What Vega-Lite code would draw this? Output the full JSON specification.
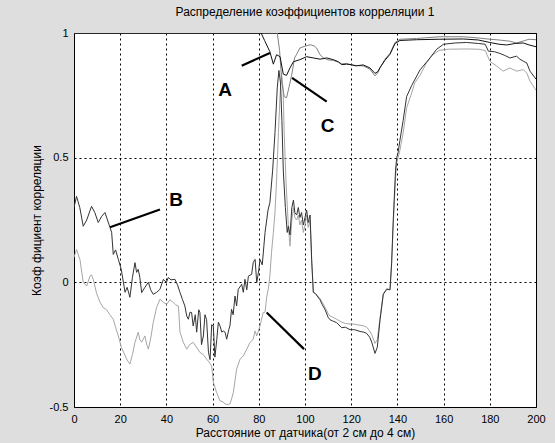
{
  "$schema": "https://vega.github.io/schema/vega-lite/v6.json",
  "width": 462,
  "height": 374,
  "autosize": {"type": "none"},
  "padding": {"left": 74, "top": 33, "right": 19, "bottom": 36},
  "background": "#dedede",
  "title": {"text": "Распределение коэффициентов корреляции 1", "fontSize": 12, "font": "Liberation Sans", "fontWeight": "normal", "color": "black", "offset": 8, "anchor": "middle"},
  "datasets": {
    "lines": [
      {"s":"D","x":0,"y":0.1},{"s":"D","x":1.1,"y":0.132},{"s":"D","x":2.6,"y":0.09},{"s":"D","x":4,"y":0.0},{"s":"D","x":5.5,"y":-0.015},{"s":"D","x":6.9,"y":0.025},{"s":"D","x":7.6,"y":0.03},{"s":"D","x":8.4,"y":0.01},{"s":"D","x":9.8,"y":-0.045},{"s":"D","x":11.3,"y":-0.08},{"s":"D","x":12.5,"y":-0.1},{"s":"D","x":14.1,"y":-0.11},{"s":"D","x":15.5,"y":-0.13},{"s":"D","x":17,"y":-0.148},{"s":"D","x":18,"y":-0.18},{"s":"D","x":19.2,"y":-0.215},{"s":"D","x":20.5,"y":-0.26},{"s":"D","x":22.8,"y":-0.308},{"s":"D","x":24.2,"y":-0.328},{"s":"D","x":25.3,"y":-0.29},{"s":"D","x":26.4,"y":-0.241},{"s":"D","x":27.8,"y":-0.2},{"s":"D","x":28.5,"y":-0.23},{"s":"D","x":29.3,"y":-0.24},{"s":"D","x":30.7,"y":-0.215},{"s":"D","x":31.5,"y":-0.25},{"s":"D","x":32.2,"y":-0.268},{"s":"D","x":33.3,"y":-0.22},{"s":"D","x":34.3,"y":-0.161},{"s":"D","x":35.8,"y":-0.1},{"s":"D","x":37.2,"y":-0.068},{"s":"D","x":38.7,"y":-0.08},{"s":"D","x":40.1,"y":-0.088},{"s":"D","x":41.5,"y":-0.07},{"s":"D","x":43,"y":-0.081},{"s":"D","x":44,"y":-0.09},{"s":"D","x":45.2,"y":-0.095},{"s":"D","x":45.9,"y":-0.2},{"s":"D","x":47.3,"y":-0.24},{"s":"D","x":48.8,"y":-0.268},{"s":"D","x":50,"y":-0.25},{"s":"D","x":51.6,"y":-0.241},{"s":"D","x":53,"y":-0.26},{"s":"D","x":54.5,"y":-0.281},{"s":"D","x":56,"y":-0.29},{"s":"D","x":57.4,"y":-0.308},{"s":"D","x":58.5,"y":-0.32},{"s":"D","x":59.6,"y":-0.335},{"s":"D","x":60.3,"y":-0.4},{"s":"D","x":61.7,"y":-0.441},{"s":"D","x":63.2,"y":-0.475},{"s":"D","x":64.6,"y":-0.48},{"s":"D","x":65.4,"y":-0.488},{"s":"D","x":66.8,"y":-0.49},{"s":"D","x":67.5,"y":-0.488},{"s":"D","x":68.2,"y":-0.468},{"s":"D","x":69,"y":-0.441},{"s":"D","x":70.4,"y":-0.348},{"s":"D","x":71.9,"y":-0.308},{"s":"D","x":73.3,"y":-0.295},{"s":"D","x":74.8,"y":-0.268},{"s":"D","x":76.2,"y":-0.241},{"s":"D","x":77.5,"y":-0.23},{"s":"D","x":78.4,"y":-0.195},{"s":"D","x":79.1,"y":-0.215},{"s":"D","x":80.5,"y":-0.175},{"s":"D","x":81.9,"y":-0.121},{"s":"D","x":82.7,"y":-0.12},{"s":"D","x":83.4,"y":-0.06},{"s":"D","x":84.1,"y":-0.028},{"s":"D","x":84.8,"y":0.025},{"s":"D","x":85.5,"y":0.119},{"s":"D","x":86.3,"y":0.2},{"s":"D","x":87,"y":0.279},{"s":"D","x":87.7,"y":0.41},{"s":"D","x":88.5,"y":0.6},{"s":"D","x":89.2,"y":0.75},{"s":"D","x":89.8,"y":0.84},{"s":"D","x":90.5,"y":0.78},{"s":"D","x":91,"y":0.6},{"s":"D","x":91.8,"y":0.4},{"s":"D","x":92.8,"y":0.225},{"s":"D","x":93.5,"y":0.145},{"s":"D","x":94.3,"y":0.25},{"s":"D","x":95,"y":0.3},{"s":"D","x":95.6,"y":0.26},{"s":"D","x":96.4,"y":0.25},{"s":"D","x":97.1,"y":0.27},{"s":"D","x":97.8,"y":0.23},{"s":"D","x":98.5,"y":0.25},{"s":"D","x":99.3,"y":0.2},{"s":"D","x":100,"y":0.23},{"s":"D","x":100.7,"y":0.27},{"s":"D","x":101.4,"y":0.22},{"s":"D","x":102.2,"y":0.25},{"s":"D","x":102.9,"y":0.08},{"s":"D","x":103.6,"y":-0.04},{"s":"D","x":104.5,"y":-0.045},{"s":"D","x":106.5,"y":-0.065},{"s":"D","x":107.5,"y":-0.08},{"s":"D","x":108.7,"y":-0.1},{"s":"D","x":110,"y":-0.125},{"s":"D","x":110.8,"y":-0.135},{"s":"D","x":112,"y":-0.14},{"s":"D","x":113.7,"y":-0.148},{"s":"D","x":115.9,"y":-0.16},{"s":"D","x":117.5,"y":-0.165},{"s":"D","x":119.5,"y":-0.167},{"s":"D","x":121.5,"y":-0.168},{"s":"D","x":123.8,"y":-0.172},{"s":"D","x":125.5,"y":-0.175},{"s":"D","x":126.7,"y":-0.18},{"s":"D","x":128,"y":-0.195},{"s":"D","x":128.9,"y":-0.21},{"s":"D","x":130.3,"y":-0.245},{"s":"D","x":131.3,"y":-0.23},{"s":"D","x":132.5,"y":-0.14},{"s":"D","x":133.9,"y":-0.045},{"s":"D","x":135.4,"y":-0.025},{"s":"D","x":136.8,"y":-0.03},{"s":"D","x":137.5,"y":0.07},{"s":"D","x":138.2,"y":0.23},{"s":"D","x":139.2,"y":0.42},{"s":"D","x":139.7,"y":0.48},{"s":"D","x":140.3,"y":0.5},{"s":"D","x":141.1,"y":0.53},{"s":"D","x":142.5,"y":0.6},{"s":"D","x":144,"y":0.7},{"s":"D","x":146.2,"y":0.76},{"s":"D","x":147.5,"y":0.8},{"s":"D","x":149.8,"y":0.83},{"s":"D","x":152.6,"y":0.88},{"s":"D","x":155,"y":0.91},{"s":"D","x":158,"y":0.93},{"s":"D","x":162,"y":0.935},{"s":"D","x":170,"y":0.936},{"s":"D","x":175,"y":0.935},{"s":"D","x":178,"y":0.93},{"s":"D","x":180,"y":0.887},{"s":"D","x":183,"y":0.867},{"s":"D","x":185.8,"y":0.847},{"s":"D","x":188.7,"y":0.86},{"s":"D","x":191.6,"y":0.847},{"s":"D","x":194.5,"y":0.853},{"s":"D","x":196,"y":0.84},{"s":"D","x":197.4,"y":0.807},{"s":"D","x":200,"y":0.77},
      {"s":"B","x":0,"y":0.3},{"s":"B","x":1.1,"y":0.345},{"s":"B","x":2.5,"y":0.3},{"s":"B","x":4,"y":0.225},{"s":"B","x":5.5,"y":0.25},{"s":"B","x":7.6,"y":0.305},{"s":"B","x":9,"y":0.28},{"s":"B","x":10.5,"y":0.24},{"s":"B","x":12,"y":0.265},{"s":"B","x":13.4,"y":0.28},{"s":"B","x":14.5,"y":0.25},{"s":"B","x":15.6,"y":0.22},{"s":"B","x":16.3,"y":0.2},{"s":"B","x":17,"y":0.112},{"s":"B","x":18,"y":0.13},{"s":"B","x":19.2,"y":0.092},{"s":"B","x":20.5,"y":0.05},{"s":"B","x":22.1,"y":-0.04},{"s":"B","x":23,"y":-0.02},{"s":"B","x":24.2,"y":-0.06},{"s":"B","x":25.3,"y":0.02},{"s":"B","x":26.4,"y":0.079},{"s":"B","x":27.1,"y":0.04},{"s":"B","x":27.8,"y":0.052},{"s":"B","x":28.5,"y":0.02},{"s":"B","x":29.3,"y":-0.041},{"s":"B","x":30.7,"y":-0.02},{"s":"B","x":32.2,"y":0.0},{"s":"B","x":33.2,"y":-0.03},{"s":"B","x":34.3,"y":-0.048},{"s":"B","x":35.8,"y":-0.04},{"s":"B","x":37.2,"y":-0.028},{"s":"B","x":38.7,"y":0.012},{"s":"B","x":40,"y":0.0},{"s":"B","x":40.8,"y":0.019},{"s":"B","x":42,"y":0.01},{"s":"B","x":43.7,"y":0.012},{"s":"B","x":44.8,"y":-0.01},{"s":"B","x":45.9,"y":-0.041},{"s":"B","x":47,"y":-0.07},{"s":"B","x":48,"y":-0.095},{"s":"B","x":48.8,"y":-0.135},{"s":"B","x":49.5,"y":-0.148},{"s":"B","x":50.2,"y":-0.12},{"s":"B","x":50.9,"y":-0.121},{"s":"B","x":51.6,"y":-0.175},{"s":"B","x":52.5,"y":-0.13},{"s":"B","x":53.1,"y":-0.2},{"s":"B","x":54,"y":-0.11},{"s":"B","x":54.5,"y":-0.12},{"s":"B","x":55.2,"y":-0.25},{"s":"B","x":56,"y":-0.215},{"s":"B","x":56.7,"y":-0.13},{"s":"B","x":57.4,"y":-0.15},{"s":"B","x":58.2,"y":-0.28},{"s":"B","x":58.9,"y":-0.31},{"s":"B","x":59.6,"y":-0.17},{"s":"B","x":60.3,"y":-0.175},{"s":"B","x":61,"y":-0.3},{"s":"B","x":61.8,"y":-0.23},{"s":"B","x":62.5,"y":-0.16},{"s":"B","x":63.2,"y":-0.175},{"s":"B","x":64,"y":-0.2},{"s":"B","x":64.6,"y":-0.195},{"s":"B","x":65.4,"y":-0.2},{"s":"B","x":66.1,"y":-0.228},{"s":"B","x":67,"y":-0.19},{"s":"B","x":67.5,"y":-0.175},{"s":"B","x":68.2,"y":-0.108},{"s":"B","x":68.9,"y":-0.13},{"s":"B","x":69.7,"y":-0.055},{"s":"B","x":70.4,"y":-0.095},{"s":"B","x":71.1,"y":-0.028},{"s":"B","x":72.6,"y":-0.008},{"s":"B","x":73.3,"y":-0.04},{"s":"B","x":74,"y":0.012},{"s":"B","x":74.8,"y":-0.03},{"s":"B","x":75.5,"y":0.025},{"s":"B","x":76.9,"y":0.032},{"s":"B","x":77.6,"y":0.08},{"s":"B","x":78.4,"y":0.092},{"s":"B","x":79.1,"y":-0.002},{"s":"B","x":80,"y":0.05},{"s":"B","x":80.5,"y":0.092},{"s":"B","x":81.5,"y":0.07},{"s":"B","x":82.7,"y":0.2},{"s":"B","x":84,"y":0.29},{"s":"B","x":84.8,"y":0.32},{"s":"B","x":86,"y":0.45},{"s":"B","x":87,"y":0.6},{"s":"B","x":88,"y":0.78},{"s":"B","x":88.7,"y":0.85},{"s":"B","x":89.4,"y":0.8},{"s":"B","x":90,"y":0.65},{"s":"B","x":90.6,"y":0.45},{"s":"B","x":91.5,"y":0.3},{"s":"B","x":92.3,"y":0.2},{"s":"B","x":92.8,"y":0.225},{"s":"B","x":93.5,"y":0.19},{"s":"B","x":94.3,"y":0.3},{"s":"B","x":95,"y":0.33},{"s":"B","x":95.6,"y":0.28},{"s":"B","x":96.4,"y":0.27},{"s":"B","x":97.1,"y":0.3},{"s":"B","x":97.8,"y":0.26},{"s":"B","x":98.5,"y":0.28},{"s":"B","x":99.3,"y":0.23},{"s":"B","x":100,"y":0.26},{"s":"B","x":100.7,"y":0.29},{"s":"B","x":101.4,"y":0.24},{"s":"B","x":102.2,"y":0.27},{"s":"B","x":102.9,"y":0.09},{"s":"B","x":103.6,"y":-0.04},{"s":"B","x":104.5,"y":-0.045},{"s":"B","x":106.5,"y":-0.07},{"s":"B","x":107.5,"y":-0.09},{"s":"B","x":108.7,"y":-0.11},{"s":"B","x":110,"y":-0.14},{"s":"B","x":110.8,"y":-0.15},{"s":"B","x":112,"y":-0.155},{"s":"B","x":113.7,"y":-0.162},{"s":"B","x":115.9,"y":-0.182},{"s":"B","x":117.5,"y":-0.18},{"s":"B","x":119.5,"y":-0.19},{"s":"B","x":121.5,"y":-0.19},{"s":"B","x":123.8,"y":-0.197},{"s":"B","x":125.5,"y":-0.2},{"s":"B","x":126.7,"y":-0.205},{"s":"B","x":128,"y":-0.22},{"s":"B","x":128.9,"y":-0.24},{"s":"B","x":130.3,"y":-0.285},{"s":"B","x":131.3,"y":-0.26},{"s":"B","x":132.5,"y":-0.15},{"s":"B","x":133.9,"y":-0.048},{"s":"B","x":135.4,"y":-0.028},{"s":"B","x":136.8,"y":-0.03},{"s":"B","x":137.5,"y":0.08},{"s":"B","x":138.2,"y":0.25},{"s":"B","x":139.2,"y":0.45},{"s":"B","x":139.7,"y":0.5},{"s":"B","x":140.3,"y":0.52},{"s":"B","x":141.1,"y":0.57},{"s":"B","x":142.5,"y":0.65},{"s":"B","x":144,"y":0.745},{"s":"B","x":146.2,"y":0.79},{"s":"B","x":149.8,"y":0.852},{"s":"B","x":154.1,"y":0.9},{"s":"B","x":157,"y":0.935},{"s":"B","x":160,"y":0.955},{"s":"B","x":165,"y":0.96},{"s":"B","x":170,"y":0.962},{"s":"B","x":175,"y":0.958},{"s":"B","x":178,"y":0.955},{"s":"B","x":179.4,"y":0.927},{"s":"B","x":182,"y":0.925},{"s":"B","x":184.4,"y":0.918},{"s":"B","x":186.5,"y":0.91},{"s":"B","x":188.7,"y":0.9},{"s":"B","x":191.6,"y":0.907},{"s":"B","x":193,"y":0.895},{"s":"B","x":194.5,"y":0.887},{"s":"B","x":196,"y":0.88},{"s":"B","x":197.4,"y":0.847},{"s":"B","x":200,"y":0.815},
      {"s":"C","x":0,"y":1},{"s":"C","x":88,"y":1},{"s":"C","x":89,"y":0.93},{"s":"C","x":90,"y":0.8},{"s":"C","x":91,"y":0.745},{"s":"C","x":92,"y":0.74},{"s":"C","x":93,"y":0.78},{"s":"C","x":94.2,"y":0.83},{"s":"C","x":95.5,"y":0.9},{"s":"C","x":96.4,"y":0.915},{"s":"C","x":97.8,"y":0.94},{"s":"C","x":100,"y":0.947},{"s":"C","x":102.2,"y":0.953},{"s":"C","x":104,"y":0.948},{"s":"C","x":105,"y":0.94},{"s":"C","x":106.5,"y":0.913},{"s":"C","x":108,"y":0.9},{"s":"C","x":110,"y":0.892},{"s":"C","x":112.3,"y":0.89},{"s":"C","x":114.4,"y":0.883},{"s":"C","x":116,"y":0.876},{"s":"C","x":118,"y":0.878},{"s":"C","x":120,"y":0.872},{"s":"C","x":122,"y":0.87},{"s":"C","x":125.2,"y":0.868},{"s":"C","x":128.1,"y":0.855},{"s":"C","x":130.3,"y":0.828},{"s":"C","x":131.5,"y":0.84},{"s":"C","x":132.5,"y":0.86},{"s":"C","x":134.6,"y":0.895},{"s":"C","x":136.8,"y":0.918},{"s":"C","x":139,"y":0.962},{"s":"C","x":141.1,"y":0.975},{"s":"C","x":148.3,"y":0.978},{"s":"C","x":158.4,"y":0.985},{"s":"C","x":168.5,"y":0.985},{"s":"C","x":175,"y":0.98},{"s":"C","x":180,"y":0.975},{"s":"C","x":184,"y":0.972},{"s":"C","x":188.7,"y":0.967},{"s":"C","x":191.6,"y":0.96},{"s":"C","x":194.5,"y":0.968},{"s":"C","x":197,"y":0.975},{"s":"C","x":200,"y":0.973},
      {"s":"A","x":0,"y":1},{"s":"A","x":81,"y":1},{"s":"A","x":82.5,"y":0.97},{"s":"A","x":84.8,"y":0.925},{"s":"A","x":86.3,"y":0.875},{"s":"A","x":87.7,"y":0.913},{"s":"A","x":89.2,"y":0.905},{"s":"A","x":90.6,"y":0.835},{"s":"A","x":92,"y":0.83},{"s":"A","x":93.5,"y":0.86},{"s":"A","x":95,"y":0.885},{"s":"A","x":97.8,"y":0.893},{"s":"A","x":100.7,"y":0.905},{"s":"A","x":103.6,"y":0.9},{"s":"A","x":106.5,"y":0.895},{"s":"A","x":109.4,"y":0.9},{"s":"A","x":112.3,"y":0.893},{"s":"A","x":114.4,"y":0.885},{"s":"A","x":115.9,"y":0.873},{"s":"A","x":118,"y":0.875},{"s":"A","x":120,"y":0.873},{"s":"A","x":122,"y":0.868},{"s":"A","x":125.2,"y":0.872},{"s":"A","x":128.1,"y":0.86},{"s":"A","x":130.3,"y":0.838},{"s":"A","x":131.5,"y":0.845},{"s":"A","x":132.5,"y":0.862},{"s":"A","x":134.6,"y":0.89},{"s":"A","x":136.8,"y":0.915},{"s":"A","x":139,"y":0.958},{"s":"A","x":141.1,"y":0.97},{"s":"A","x":148.3,"y":0.973},{"s":"A","x":158.4,"y":0.975},{"s":"A","x":168.5,"y":0.976},{"s":"A","x":175,"y":0.972},{"s":"A","x":180,"y":0.962},{"s":"A","x":184,"y":0.955},{"s":"A","x":187.3,"y":0.952},{"s":"A","x":191,"y":0.958},{"s":"A","x":194.5,"y":0.96},{"s":"A","x":197,"y":0.952},{"s":"A","x":200,"y":0.945}
    ],
    "leaders": [
      {"x":72.6,"y":0.869,"xe":84.8,"ye":0.92},
      {"x":15.6,"y":0.221,"xe":37.2,"ye":0.292},
      {"x":94.4,"y":0.82,"xe":109.4,"ye":0.725},
      {"x":83.4,"y":-0.121,"xe":99.6,"ye":-0.268}
    ],
    "letters": [
      {"x":65.4,"y":0.772,"t":"A"},
      {"x":44.2,"y":0.329,"t":"B"},
      {"x":109.8,"y":0.628,"t":"C"},
      {"x":104.3,"y":-0.368,"t":"D"}
    ]
  },
  "encoding": {
    "x": {"field": "x", "type": "quantitative",
      "scale": {"domain": [0, 200], "nice": false, "zero": false},
      "axis": {"values": [0,20,40,60,80,100,120,140,160,180,200], "title": "Расстояние от датчика(от 2 см до 4 см)", "grid": true, "gridDash": [2,3], "gridColor": "black", "gridOpacity": 1, "gridWidth": 1, "ticks": false, "domain": false, "labelFont": "Liberation Sans", "labelFontSize": 11, "labelColor": "black", "labelPadding": 6, "titleFont": "Liberation Sans", "titleFontSize": 12, "titleFontWeight": "normal", "titleColor": "black", "titlePadding": 3, "labelFlush": false}},
    "y": {"field": "y", "type": "quantitative",
      "scale": {"domain": [-0.5, 1], "nice": false, "zero": false},
      "axis": {"values": [-0.5, 0, 0.5, 1], "labelExpr": "'' + datum.value", "title": "Коэф фициент корреляции", "grid": true, "gridDash": [2,3], "gridColor": "black", "gridOpacity": 1, "gridWidth": 1, "ticks": false, "domain": false, "labelFont": "Liberation Sans", "labelFontSize": 11, "labelColor": "black", "labelPadding": 6, "titleFont": "Liberation Sans", "titleFontSize": 12, "titleFontWeight": "normal", "titleColor": "black", "titlePadding": 6, "labelFlush": false}}
  },
  "layer": [
    {
      "data": {"name": "lines"},
      "mark": {"type": "line", "strokeWidth": 1, "clip": true},
      "encoding": {
        "color": {"field": "s", "type": "nominal", "legend": null, "sort": ["D","B","C","A"],
          "scale": {"domain": ["D","B","C","A"], "range": ["#a6a6a6", "#333333", "#808080", "#111111"]}}
      }
    },
    {
      "data": {"name": "leaders"},
      "mark": {"type": "rule", "color": "black", "strokeWidth": 2.2},
      "encoding": {"x2": {"field": "xe"}, "y2": {"field": "ye"}}
    },
    {
      "data": {"name": "letters"},
      "mark": {"type": "text", "font": "Liberation Sans", "fontWeight": "bold", "fontSize": 19, "color": "black", "align": "center", "baseline": "middle"},
      "encoding": {"text": {"field": "t"}}
    }
  ],
  "config": {"view": {"fill": "white", "stroke": "black", "strokeWidth": 1}}
}
